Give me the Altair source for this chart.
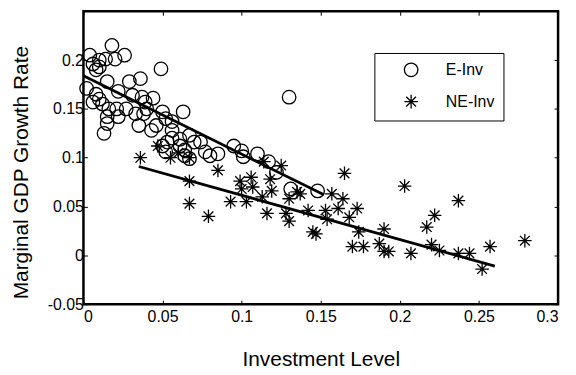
import altair as alt
import pandas as pd

series = ["E-Inv", "NE-Inv"]

e_x = [0.002, 0.004, 0.006, 0.008, 0.010, 0.010, 0.014, 0.018, 0.020, 0.026,
       0.015, 0.022, 0.029, 0.036, 0.049, 0.010, 0.012, 0.016, 0.015, 0.015,
       0.013, 0.021, 0.022, 0.027, 0.031, 0.033, 0.035, 0.037, 0.039, 0.040,
       0.044, 0.038, 0.046, 0.050, 0.052, 0.056, 0.056, 0.063, 0.050, 0.052,
       0.056, 0.061, 0.061, 0.064, 0.067, 0.070, 0.074, 0.077, 0.080, 0.085,
       0.095, 0.100, 0.101, 0.110, 0.117, 0.122, 0.130, 0.131, 0.148, 0.008,
       0.053, 0.043, 0.067, 0.064, 0.006]
e_y = [0.171, 0.205, 0.196, 0.190, 0.200, 0.193, 0.201, 0.215, 0.201, 0.205,
       0.178, 0.168, 0.178, 0.181, 0.191, 0.160, 0.155, 0.150, 0.142, 0.135,
       0.125, 0.150, 0.142, 0.150, 0.164, 0.145, 0.133, 0.162, 0.157, 0.150,
       0.161, 0.145, 0.133, 0.147, 0.140, 0.137, 0.128, 0.147, 0.112, 0.106,
       0.120, 0.119, 0.112, 0.102, 0.123, 0.116, 0.116, 0.106, 0.102, 0.104,
       0.112, 0.107, 0.101, 0.104, 0.096, 0.085, 0.162, 0.068, 0.066, 0.165,
       0.116, 0.128, 0.099, 0.108, 0.157]

ne_x = [0.036, 0.047, 0.055, 0.067, 0.067, 0.067, 0.079, 0.085, 0.093, 0.099,
        0.100, 0.103, 0.106, 0.107, 0.114, 0.116, 0.118, 0.119, 0.125, 0.130,
        0.130, 0.137, 0.142, 0.145, 0.153, 0.154, 0.157, 0.161, 0.164, 0.165,
        0.168, 0.173, 0.174, 0.170, 0.177, 0.187, 0.190, 0.190, 0.193, 0.203,
        0.207, 0.217, 0.222, 0.220, 0.225, 0.237, 0.237, 0.244, 0.252, 0.257,
        0.279, 0.135, 0.128, 0.113, 0.147, 0.060]
ne_y = [0.100, 0.112, 0.100, 0.100, 0.076, 0.053, 0.040, 0.087, 0.055, 0.076,
        0.068, 0.055, 0.080, 0.070, 0.096, 0.043, 0.078, 0.066, 0.092, 0.058,
        0.035, 0.063, 0.046, 0.024, 0.046, 0.037, 0.063, 0.048, 0.058, 0.084,
        0.039, 0.048, 0.024, 0.009, 0.009, 0.012, 0.027, 0.004, 0.004, 0.071,
        0.002, 0.029, 0.041, 0.011, 0.005, 0.056, 0.002, 0.002, -0.014, 0.009,
        0.015, 0.065, 0.043, 0.060, 0.022, 0.105]

fit_e_x = [0.0, 0.152]
fit_e_y = [0.184, 0.062]
fit_ne_x = [0.035, 0.26]
fit_ne_y = [0.091, -0.011]

x_ticks = [0, 0.05, 0.1, 0.15, 0.2, 0.25, 0.3]
y_ticks = [-0.05, 0, 0.05, 0.1, 0.15, 0.2]

pts = pd.DataFrame({
    "x": e_x + ne_x,
    "y": e_y + ne_y,
    "series": [series[0]] * len(e_x) + [series[1]] * len(ne_x),
})
fits = pd.DataFrame({
    "x": fit_e_x + fit_ne_x,
    "y": fit_e_y + fit_ne_y,
    "series": [series[0]] * len(fit_e_x) + [series[1]] * len(fit_ne_x),
})

STAR = "M-1,0L1,0M0,-1L0,1M-0.72,-0.72L0.72,0.72M-0.72,0.72L0.72,-0.72"
FONT = "Liberation Sans"

common = dict(
    labelFont=FONT, labelFontSize=16, labelColor="black",
    titleFont=FONT, titleFontSize=21, titleFontWeight="normal", titleColor="black",
    domain=False, grid=False, tickColor="black", tickWidth=1, tickSize=4, offset=-4,
)

xs = alt.Scale(domain=[0, 0.3], nice=False, zero=False)
ys = alt.Scale(domain=[-0.05, 0.25], nice=False, zero=False)

points = alt.Chart(pts).mark_point(
    filled=False, color="black", strokeWidth=1.3, opacity=1, size=185
).encode(
    x=alt.X("x:Q", scale=xs, axis=alt.Axis(
        orient="bottom", values=x_ticks, labelExpr="toString(datum.value)",
        title="Investment Level", labelPadding=4,
        titleY=66, titleBaseline="alphabetic", **common)),
    y=alt.Y("y:Q", scale=ys, axis=alt.Axis(
        orient="left", values=y_ticks, labelExpr="toString(datum.value)",
        title="Marginal GDP Growth Rate", labelPadding=0,
        titleX=-60, titleY=162, titleAngle=270, titleBaseline="alphabetic",
        titleAlign="center", **common)),
    shape=alt.Shape("series:N", scale=alt.Scale(domain=series, range=["circle", STAR]),
                    legend=alt.Legend(
                        title=None, orient="none", legendX=293, legendY=42,
                        strokeColor="black", fillColor="white", padding=9,
                        symbolOffset=20, labelOffset=27, labelFontSize=16,
                        labelFont=FONT, labelColor="black", rowPadding=12,
                        symbolStrokeColor="black", symbolStrokeWidth=1.3,
                        symbolSize=185, symbolFillColor="transparent")),
)

lines = alt.Chart(fits).mark_line(color="black", strokeWidth=2.8).encode(
    x=alt.X("x:Q", scale=xs, axis=alt.Axis(
        orient="top", values=x_ticks, labels=False, title=None, **common)),
    y=alt.Y("y:Q", scale=ys, axis=alt.Axis(
        orient="right", values=y_ticks, labels=False, title=None, **common)),
    detail="series:N",
)

chart = alt.layer(points, lines).resolve_axis(
    x="independent", y="independent"
).properties(
    width=478, height=295,
    background="white",
    autosize=alt.AutoSizeParams(type="none"),
    padding={"left": 76, "top": 2, "right": 10, "bottom": 66},
).configure_view(
    stroke="black", strokeWidth=2.5
)

chart.save("out.html", embed_options={"renderer": "svg", "actions": False})
